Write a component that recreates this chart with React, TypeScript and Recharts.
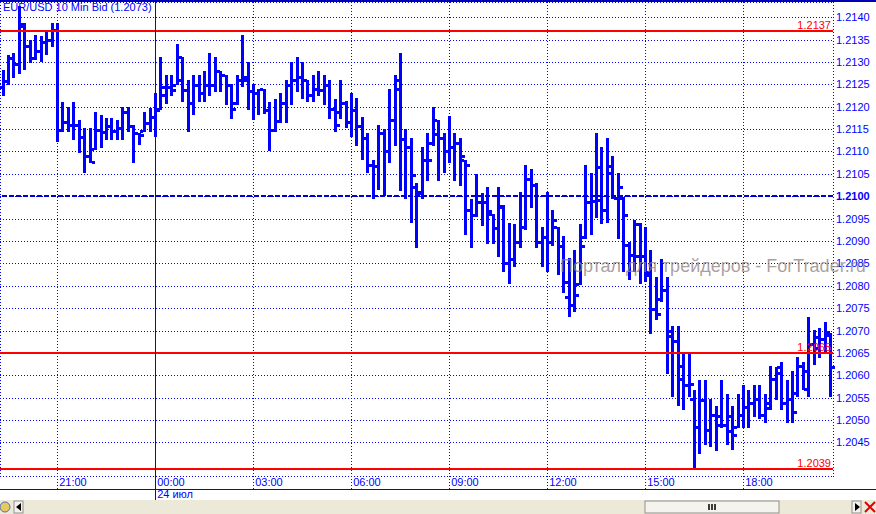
import React from "react";
import {
  ComposedChart,
  Bar,
  XAxis,
  YAxis,
  CartesianGrid,
  ReferenceLine
} from "recharts";

// EUR/USD 10 min bars, 19:20 .. 20:40 next day
const open = [
  1.21245, 1.21258, 1.2131, 1.21295, 1.2138, 1.21335, 1.2131, 1.21325, 1.21345, 1.2135,
  1.21372, 1.21148, 1.21167, 1.2116, 1.21159, 1.21133, 1.21089, 1.21105, 1.21148, 1.21144,
  1.21156, 1.21145, 1.21152, 1.21189, 1.21156, 1.21141, 1.21145, 1.21163, 1.21178, 1.21195,
  1.21245, 1.21245, 1.21249, 1.2126, 1.21238, 1.21208, 1.21249, 1.2123, 1.21249, 1.21249,
  1.21279, 1.21271, 1.21249, 1.21208, 1.2126, 1.2126, 1.21235, 1.2123, 1.2124, 1.21193,
  1.21148, 1.21168, 1.21208, 1.21249, 1.2126, 1.21267, 1.2126, 1.21226, 1.2124, 1.21238,
  1.21249, 1.21196, 1.21189, 1.21208, 1.21165, 1.21193, 1.21157, 1.2113, 1.2107, 1.21068,
  1.21141, 1.211, 1.2117, 1.2124, 1.21127, 1.2111, 1.2102, 1.21008, 1.21082, 1.2112,
  1.2117, 1.2113, 1.211, 1.21109, 1.21118, 1.21081, 1.2097, 1.20958, 1.20988, 1.20988,
  1.2096, 1.20928, 1.20975, 1.2085, 1.20859, 1.20898, 1.20931, 1.21038, 1.21025, 1.20898,
  1.20908, 1.20898, 1.20932, 1.20889, 1.20776, 1.20757, 1.20805, 1.2091, 1.20988, 1.2099,
  1.21066, 1.20969, 1.21068, 1.20995, 1.20995, 1.2089, 1.20869, 1.20939, 1.20866, 1.20824,
  1.20749, 1.2077, 1.2079, 1.20688, 1.20677, 1.20591, 1.20578, 1.20546, 1.20485, 1.20545,
  1.20478, 1.20511, 1.20509, 1.20489, 1.20476, 1.20485, 1.20511, 1.2053, 1.20537, 1.20546,
  1.20511, 1.20537, 1.20591, 1.20619, 1.20539, 1.20546, 1.2056, 1.20621, 1.2057, 1.2067,
  1.2066, 1.2068, 1.2069
];

const high = [
  1.21281, 1.21316, 1.2132, 1.21424, 1.21387, 1.21349, 1.21361, 1.21357, 1.21368, 1.21388,
  1.21388, 1.21211, 1.212, 1.21211, 1.2117, 1.21152, 1.21152, 1.21189, 1.21182, 1.21174,
  1.21174, 1.2117, 1.212, 1.212, 1.21159, 1.21141, 1.21189, 1.21197, 1.2123, 1.21312,
  1.21271, 1.21271, 1.2134, 1.21311, 1.2126, 1.21271, 1.21271, 1.2128, 1.2132, 1.21311,
  1.21279, 1.21271, 1.2125, 1.21271, 1.2136, 1.213, 1.2125, 1.2124, 1.2124, 1.2121,
  1.21217, 1.2123, 1.2126, 1.213, 1.21311, 1.213, 1.2126, 1.21271, 1.21279, 1.21271,
  1.2126, 1.21217, 1.2126, 1.21212, 1.2123, 1.21219, 1.21178, 1.21141, 1.2108, 1.21159,
  1.2115, 1.21239, 1.21271, 1.21319, 1.2115, 1.2113, 1.21029, 1.21109, 1.21141, 1.212,
  1.2117, 1.21141, 1.21179, 1.21141, 1.2113, 1.21081, 1.20993, 1.2105, 1.21008, 1.21021,
  1.2096, 1.2102, 1.2098, 1.20941, 1.20939, 1.2101, 1.2107, 1.2106, 1.2103, 1.20931,
  1.2101, 1.20969, 1.20932, 1.20911, 1.20861, 1.2088, 1.20939, 1.2107, 1.21051, 1.21141,
  1.21111, 1.2113, 1.2109, 1.21051, 1.20999, 1.20898, 1.20948, 1.20941, 1.20931, 1.2088,
  1.2082, 1.20859, 1.20819, 1.2071, 1.2071, 1.20649, 1.20649, 1.20568, 1.20589, 1.20589,
  1.20548, 1.20531, 1.20589, 1.20559, 1.20531, 1.20559, 1.20578, 1.20568, 1.20578, 1.20578,
  1.20559, 1.20621, 1.20619, 1.2063, 1.20589, 1.2061, 1.2064, 1.2063, 1.20731, 1.20701,
  1.20705, 1.2072, 1.20694
];

const low = [
  1.21223, 1.21249, 1.21264, 1.21273, 1.21282, 1.21297, 1.21305, 1.21301, 1.21316, 1.21334,
  1.21122, 1.21144, 1.21144, 1.21126, 1.21096, 1.21053, 1.21074, 1.21103, 1.21107, 1.21126,
  1.21126, 1.21126, 1.21126, 1.21144, 1.21074, 1.21115, 1.21144, 1.21144, 1.21133, 1.21193,
  1.21205, 1.21223, 1.21249, 1.21211, 1.21143, 1.21182, 1.21211, 1.21211, 1.21223, 1.21234,
  1.21234, 1.21204, 1.21173, 1.21204, 1.21243, 1.21193, 1.2117, 1.21182, 1.21183, 1.21102,
  1.21143, 1.21163, 1.21163, 1.21204, 1.21234, 1.21217, 1.21211, 1.21211, 1.21223, 1.21204,
  1.21173, 1.21143, 1.21172, 1.21152, 1.21133, 1.21112, 1.21082, 1.21053, 1.20993, 1.21014,
  1.21, 1.21074, 1.21112, 1.21012, 1.20993, 1.20941, 1.20884, 1.20993, 1.21033, 1.21112,
  1.21033, 1.21053, 1.21074, 1.21033, 1.21023, 1.20914, 1.20884, 1.20953, 1.20934, 1.20893,
  1.20893, 1.20864, 1.20831, 1.20803, 1.20843, 1.20884, 1.20925, 1.20973, 1.20884, 1.20843,
  1.20831, 1.20889, 1.20824, 1.20783, 1.20731, 1.20742, 1.20802, 1.20904, 1.20913, 1.20951,
  1.20939, 1.20941, 1.20993, 1.20904, 1.20831, 1.20813, 1.20831, 1.20804, 1.20809, 1.20693,
  1.20723, 1.20764, 1.20603, 1.20552, 1.20531, 1.20522, 1.20552, 1.20392, 1.20424, 1.20444,
  1.2044, 1.20431, 1.20483, 1.20444, 1.20433, 1.20483, 1.20483, 1.20483, 1.20507, 1.20503,
  1.20494, 1.20522, 1.20545, 1.20522, 1.20494, 1.20494, 1.20552, 1.20567, 1.20552, 1.20623,
  1.20638, 1.2065, 1.20552
];

const close = [
  1.21258, 1.2131, 1.21295, 1.21385, 1.21335, 1.2131, 1.21325, 1.21345, 1.2135, 1.21372,
  1.21148, 1.21167, 1.2116, 1.21159, 1.21133, 1.21089, 1.21077, 1.21148, 1.21144, 1.21156,
  1.21145, 1.21152, 1.21189, 1.21156, 1.21141, 1.21137, 1.21163, 1.21178, 1.21193, 1.21226,
  1.21245, 1.21238, 1.21311, 1.21238, 1.21208, 1.21249, 1.2123, 1.21249, 1.21249, 1.21279,
  1.21271, 1.21249, 1.21196, 1.2126, 1.21267, 1.21235, 1.2123, 1.2124, 1.21193, 1.21148,
  1.21168, 1.21208, 1.21249, 1.2126, 1.21267, 1.2126, 1.21226, 1.2124, 1.21238, 1.21249,
  1.21196, 1.2116, 1.21208, 1.21165, 1.21193, 1.21157, 1.2113, 1.2107, 1.21068, 1.21141,
  1.211, 1.2117, 1.2126, 1.21127, 1.2111, 1.21048, 1.2101, 1.21082, 1.21082, 1.21138,
  1.2113, 1.211, 1.21109, 1.21118, 1.21089, 1.2107, 1.20958, 1.20988, 1.20988, 1.20968,
  1.20928, 1.20978, 1.2085, 1.20859, 1.20898, 1.20931, 1.21038, 1.21025, 1.20898, 1.20908,
  1.20898, 1.20948, 1.20889, 1.20809, 1.20757, 1.20779, 1.20889, 1.20988, 1.2099, 1.20992,
  1.20969, 1.21051, 1.20995, 1.2102, 1.20958, 1.20869, 1.20866, 1.20866, 1.20831, 1.20749,
  1.20738, 1.2079, 1.207, 1.20677, 1.2062, 1.20578, 1.2058, 1.20485, 1.20545, 1.20478,
  1.20511, 1.20489, 1.20489, 1.20509, 1.20466, 1.20511, 1.2053, 1.20537, 1.20546, 1.20511,
  1.20526, 1.20591, 1.20606, 1.20539, 1.20546, 1.20518, 1.20621, 1.2061, 1.2067, 1.20685,
  1.2068, 1.20697, 1.20619
];

const xTicks = [10, 28, 46, 64, 82, 100, 118, 136];
const xTickLabels = ["21:00", "00:00", "03:00", "06:00", "09:00", "12:00", "15:00", "18:00"];
const dayIndex = 28;
const dayLabel = "24 июл";

const priceTicks = [
  1.2045, 1.205, 1.2055, 1.206, 1.2065, 1.207, 1.2075, 1.208, 1.2085, 1.209,
  1.2095, 1.21, 1.2105, 1.211, 1.2115, 1.212, 1.2125, 1.213, 1.2135, 1.214
];
const levels = [1.2137, 1.2065, 1.2039];
const roundLevel = 1.21;

const title = "EUR/USD 10 Min Bid (1.2073)";
const watermark = "Портал для трейдеров - ForTrader.ru";

const BLUE = "#0000ff";
const FONT = "Arial, 'Liberation Sans', sans-serif";

const data = open.map((o, i) => ({
  i,
  open: o,
  high: high[i],
  low: low[i],
  close: close[i],
  range: [low[i], high[i]]
}));

const px = (v: number) => Math.round(v) + 0.5;

function OhlcBar(props: any) {
  const { x, y, width, height, payload } = props;
  if (!payload) return null;
  const top = Math.min(y, y + height);
  const h = Math.abs(height);
  const span = payload.high - payload.low;
  const cx = Math.round(x + width / 2);
  const yOf = (v: number) => top + (span > 0 ? ((payload.high - v) / span) * h : 0);
  const yo = Math.round(yOf(payload.open));
  const yc = Math.round(yOf(payload.close));
  const t = Math.round(top);
  const b = Math.round(top + h);
  return (
    <g fill={BLUE} shapeRendering="crispEdges">
      <rect x={cx - 1} y={t} width={3} height={Math.max(b - t, 1)} />
      <rect x={cx - 4} y={yo - 1} width={3} height={3} />
      <rect x={cx + 2} y={yc - 1} width={3} height={3} />
    </g>
  );
}

function GridH(p: any) {
  const yy = px(p.y1);
  return (
    <line
      key={p.key ?? "h" + p.y1}
      x1={p.x1}
      x2={p.x2}
      y1={yy}
      y2={yy}
      stroke={BLUE}
      strokeDasharray="1 2"
    />
  );
}

function GridV(p: any) {
  const xx = px(p.x1);
  return (
    <line
      key={p.key ?? "v" + p.x1}
      x1={xx}
      x2={xx}
      y1={p.y1}
      y2={p.y2}
      stroke={BLUE}
      strokeDasharray="1 2"
    />
  );
}

function TimeTick(props: any) {
  const { x, y, payload } = props;
  const k = xTicks.indexOf(payload.value);
  const isDay = payload.value === dayIndex;
  const lx = px(x);
  return (
    <g>
      {isDay ? (
        <line x1={lx} x2={lx} y1={2} y2={500} stroke={BLUE} />
      ) : (
        <line x1={lx} x2={lx} y1={y} y2={489} stroke={BLUE} strokeDasharray="1 2" />
      )}
      <text x={x + 2} y={y + 10} fill={BLUE} fontSize={11} fontFamily={FONT}>
        {xTickLabels[k]}
      </text>
      {isDay && (
        <text x={x + 2} y={y + 22} fill={BLUE} fontSize={11} fontFamily={FONT}>
          {dayLabel}
        </text>
      )}
    </g>
  );
}

function PriceTick(props: any) {
  const { x, y, payload } = props;
  const v = payload.value;
  return (
    <text
      x={x + 3}
      y={y + 4}
      fill={BLUE}
      fontSize={11}
      fontFamily={FONT}
      fontWeight={Math.abs(v - roundLevel) < 1e-9 ? "bold" : "normal"}
    >
      {v.toFixed(4)}
    </text>
  );
}

function LevelLabel(props: any) {
  const { viewBox, v } = props;
  if (!viewBox) return null;
  return (
    <text
      x={viewBox.x + viewBox.width - 2}
      y={viewBox.y - 2}
      textAnchor="end"
      fill="#ff0000"
      fontSize={11}
      fontFamily={FONT}
    >
      {v.toFixed(4)}
    </text>
  );
}

function ScrollBar() {
  return (
    <svg
      width={876}
      height={14}
      style={{ position: "absolute", left: 0, top: 500 }}
    >
      <rect x={0} y={0} width={876} height={14} fill="#ece9d8" />
      <circle cx={5} cy={7} r={5} fill="#e8c860" stroke="#5070b0" />
      <rect x={14} y={1} width={9} height={12} fill="#f4f3ee" stroke="#8f8f8f" />
      <path d="M21 3 L16 7 L21 11 Z" fill="#000" />
      <rect x={645} y={1} width={134} height={12} fill="#f4f3ee" stroke="#8f8f8f" />
      <path d="M709 4 V10 M712 4 V10 M715 4 V10" stroke="#000" strokeWidth={1.5} />
      <rect x={852} y={1} width={9} height={12} fill="#f4f3ee" stroke="#8f8f8f" />
      <path d="M855 3 L860 7 L855 11 Z" fill="#000" />
      <path d="M865 2 L875 12 M875 2 L865 12" stroke="#e00000" strokeWidth={2} />
    </svg>
  );
}

export default function App() {
  return (
    <div
      style={{
        position: "absolute",
        left: 0,
        top: 0,
        width: 876,
        height: 514,
        background: "#ffffff",
        overflow: "hidden"
      }}
    >
      <ComposedChart
        width={876}
        height={514}
        data={data}
        margin={{ top: 2, right: 0, bottom: 0, left: 0 }}
        barCategoryGap={0}
      >
        <CartesianGrid horizontal={GridH} vertical={GridV} />
        <XAxis
          dataKey="i"
          type="category"
          ticks={xTicks}
          interval={0}
          height={38}
          axisLine={false}
          tickLine={false}
          tickSize={0}
          tickMargin={0}
          tick={<TimeTick />}
        />
        <YAxis
          orientation="right"
          width={43}
          domain={[1.20375, 1.21434]}
          allowDataOverflow
          ticks={priceTicks}
          interval={0}
          axisLine={false}
          tickLine={false}
          tickSize={0}
          tickMargin={0}
          tick={<PriceTick />}
        />
        <ReferenceLine
          y={roundLevel}
          stroke="#0000cc"
          strokeWidth={2}
          strokeDasharray="5 2"
          shapeRendering="crispEdges"
        />
        {levels.map((v) => (
          <ReferenceLine
            key={v}
            y={v}
            stroke="#ff0000"
            strokeWidth={2}
            shapeRendering="crispEdges"
            label={<LevelLabel v={v} />}
          />
        ))}
        <Bar dataKey="range" shape={<OhlcBar />} isAnimationActive={false} />
      </ComposedChart>

      <svg
        width={876}
        height={514}
        style={{ position: "absolute", left: 0, top: 0, pointerEvents: "none" }}
      >
        <line x1={833.5} x2={833.5} y1={2} y2={478} stroke={BLUE} strokeDasharray="1 2" />
        <rect x={0} y={0} width={876} height={2} fill="#0000b4" />
        <rect x={0} y={489} width={876} height={1} fill={BLUE} />
      </svg>
      <div
        style={{
          position: "absolute",
          left: 3,
          top: 1,
          font: "11px " + FONT,
          color: BLUE,
          lineHeight: "13px",
          whiteSpace: "nowrap"
        }}
      >
        {title}
      </div>
      <div
        style={{
          position: "absolute",
          left: 560,
          top: 256,
          font: "18px " + FONT,
          color: "rgba(140,128,128,0.75)",
          lineHeight: "20px",
          whiteSpace: "nowrap"
        }}
      >
        {watermark}
      </div>
      <ScrollBar />
    </div>
  );
}
